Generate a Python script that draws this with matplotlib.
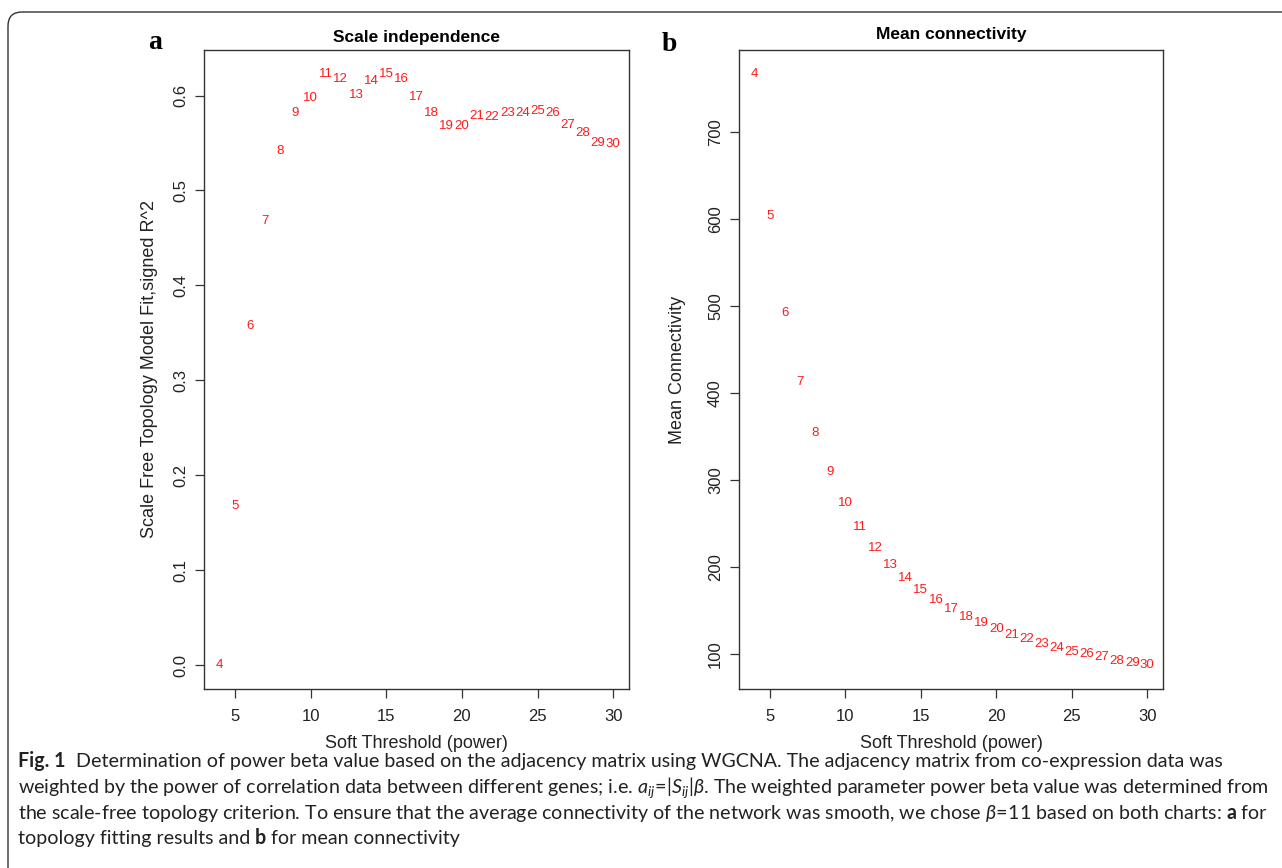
import matplotlib
matplotlib.use('Agg')
import matplotlib.pyplot as plt
from matplotlib.patches import FancyBboxPatch
from matplotlib.transforms import IdentityTransform

plt.rcParams['font.family'] = ['Liberation Sans', 'DejaVu Sans']
plt.rcParams['mathtext.fontset'] = 'custom'
plt.rcParams['mathtext.rm'] = 'Lato'
plt.rcParams['mathtext.it'] = 'Lato:italic'
plt.rcParams['mathtext.bf'] = 'Lato:bold'

# soft threshold powers and the two WGCNA curves
powers = list(range(4, 31))
sft_r2 = [0.000, 0.168, 0.357, 0.468, 0.542, 0.582, 0.597, 0.623, 0.617,
          0.601, 0.615, 0.623, 0.617, 0.598, 0.582, 0.568, 0.568, 0.578,
          0.577, 0.582, 0.582, 0.584, 0.582, 0.569, 0.561, 0.550, 0.549]
mean_k = [767.5, 604.0, 492.5, 413.0, 354.4, 309.5, 274.0, 246.3, 222.0,
          202.4, 187.4, 173.6, 161.7, 151.5, 143.0, 135.4, 128.5, 122.3,
          117.0, 112.0, 107.0, 102.8, 99.8, 96.4, 92.4, 89.8, 87.1]
x_ticks = [5, 10, 15, 20, 25, 30]
r2_ticks = [0.0, 0.1, 0.2, 0.3, 0.4, 0.5, 0.6]
k_ticks = [100, 200, 300, 400, 500, 600, 700]

W, H = 1282, 868
fig = plt.figure(figsize=(W / 100, H / 100), dpi=100)


def px_box(l, t, r, b):
    return [l / W, 1 - b / H, (r - l) / W, (b - t) / H]


def r_lim(v):
    lo, hi = min(v), max(v)
    d = (hi - lo) * 0.04
    return lo - d, hi + d


def panel(ax, x, y, title, ylab, yticks, ylabels, ylab_x, title_pad):
    for p, v in zip(x, y):
        ax.text(p, v, str(p), color='#ff1a1a', fontsize=9.5, ha='center', va='center')
    ax.set_xlim(r_lim(x))
    ax.set_ylim(r_lim(y))
    ax.set_xticks(x_ticks)
    ax.set_yticks(yticks, labels=ylabels, rotation=90, va='center')
    ax.tick_params(direction='out', length=6.5, width=0.9, color='#333333',
                   labelcolor='#222222', labelsize=12)
    ax.tick_params(axis='x', pad=8)
    ax.tick_params(axis='y', pad=5)
    for s in ax.spines.values():
        s.set_color('#333333')
        s.set_linewidth(1.0)
    ax.set_title(title, fontweight='bold', fontsize=12.5, pad=title_pad)
    ax.set_xlabel('Soft Threshold (power)', fontsize=13, color='#222222', labelpad=8)
    ax.set_ylabel(ylab, fontsize=13, color='#222222')
    ax.yaxis.set_label_coords(ylab_x, 0.5)


ax_a = fig.add_axes(px_box(204, 50, 629, 689))
panel(ax_a, powers, sft_r2, 'Scale independence',
      'Scale Free Topology Model Fit,signed R^2',
      r2_ticks, [f'{v:.1f}' for v in r2_ticks], -0.108, 6)

ax_b = fig.add_axes(px_box(739, 50, 1163, 689))
panel(ax_b, powers, mean_k, 'Mean connectivity', 'Mean Connectivity',
      k_ticks, [str(v) for v in k_ticks], -0.125, 8)

fig.text(155 / W, 1 - 49 / H, 'a', family='Liberation Serif', fontweight='bold',
         fontsize=20, ha='center', va='baseline')
fig.text(669 / W, 1 - 51 / H, 'b', family='Liberation Serif', fontweight='bold',
         fontsize=20, ha='center', va='baseline')

# rounded frame around figure + caption
frame = FancyBboxPatch((8, -40), 1400, 856 + 40, boxstyle='round,pad=0,rounding_size=14',
                       transform=IdentityTransform(), fill=False, ec='#333333', lw=1.0)
fig.add_artist(frame)

# caption
renderer = fig.canvas.get_renderer()
cap = dict(family=['Lato', 'DejaVu Sans'], color='#222222')


def text_w(s, **kw):
    t = fig.text(0, 0, s + '|', **kw)
    w1 = t.get_window_extent(renderer).width
    t.remove()
    t = fig.text(0, 0, '|', **kw)
    w2 = t.get_window_extent(renderer).width
    t.remove()
    return w1 - w2


line1 = [('Fig. 1', 'bold'),
         ('  Determination of power beta value based on the adjacency matrix using WGCNA. '
          'The adjacency matrix from co-expression data was', 'normal')]
line2 = [(r'weighted by the power of correlation data between different genes; i.e. '
          r'$a_{ij}\!=\!|S_{ij}|\beta$. The weighted parameter power beta value was determined from',
          'normal')]
line3 = [(r'the scale-free topology criterion. To ensure that the average connectivity of the '
          r'network was smooth, we chose $\beta\!=\!11$ based on both charts: ', 'normal'),
         ('a', 'bold'), (' for', 'normal')]
line4 = [('topology fitting results and ', 'normal'), ('b', 'bold'),
         (' for mean connectivity', 'normal')]

w_ref = text_w(line2[0][0], fontsize=10, **cap)
cap_size = 10 * 1250 / w_ref

for base, runs in zip([767, 793, 819, 844], [line1, line2, line3, line4]):
    x = 18
    for s, wt in runs:
        fig.text(x / W, 1 - base / H, s, fontsize=cap_size, fontweight=wt,
                 ha='left', va='baseline', **cap)
        x += text_w(s, fontsize=cap_size, fontweight=wt, **cap)

fig.savefig('out.png', dpi=100)
